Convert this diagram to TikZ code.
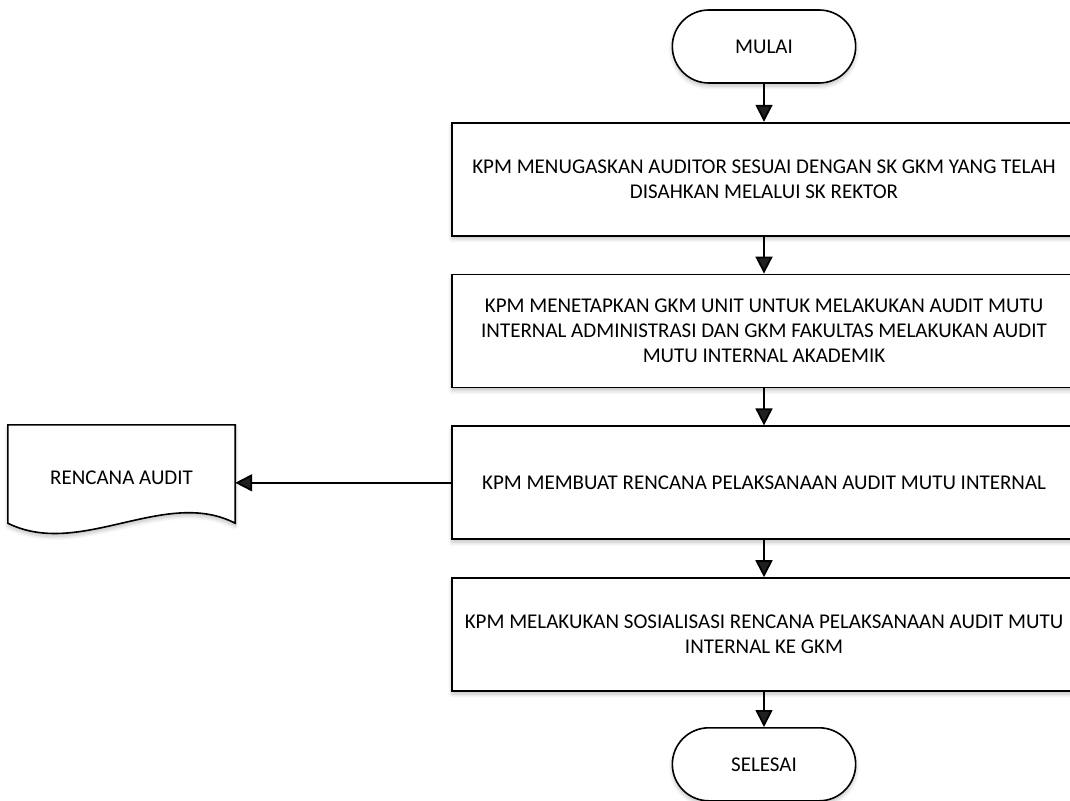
\documentclass[tikz,border=0pt]{standalone}
\usepackage{fontspec}
\setmainfont{Carlito}
\usetikzlibrary{positioning,shapes.misc,arrows.meta,shadows.blur}

\begin{document}
\begin{tikzpicture}[
						x=1pt, y=-1pt,
						node distance=37pt,
						font=\fontsize{21}{25}\selectfont,
						glow/.style={blur shadow={shadow xshift=0pt, shadow yshift=-3pt, shadow blur radius=4pt, shadow opacity=25, shadow blur steps=6}},
						terminal/.style={rounded rectangle, draw=black, line width=1.6pt, fill=white, minimum width=190pt, minimum height=73pt, glow},
						process/.style={rectangle, draw=black, line width=1.8pt, fill=white, minimum width=624pt, minimum height=113pt, align=center, glow},
						doc/.style={rectangle, minimum width=227pt, minimum height=98pt, inner sep=0pt}
					]
					\useasboundingbox (0,0) rectangle (1070,800);
					\node[terminal] (mulai) at (764,46.5) {MULAI};
					\node[process] (tugas) [below=38pt of mulai] {KPM MENUGASKAN AUDITOR SESUAI DENGAN SK GKM YANG TELAH\\DISAHKAN MELALUI SK REKTOR};
					\node[process] (tetap) [below=of tugas] {KPM MENETAPKAN GKM UNIT UNTUK MELAKUKAN AUDIT MUTU\\INTERNAL ADMINISTRASI DAN GKM FAKULTAS MELAKUKAN AUDIT\\MUTU INTERNAL AKADEMIK};
					\node[process] (buat) [below=of tetap] {KPM MEMBUAT RENCANA PELAKSANAAN AUDIT MUTU INTERNAL};
					\node[process] (sosial) [below=of buat] {KPM MELAKUKAN SOSIALISASI RENCANA PELAKSANAAN AUDIT MUTU\\INTERNAL KE GKM};
					\node[terminal] (selesai) [below=35pt of sosial] {SELESAI};
					\node[doc] (rencana) at (121.5,474) {};
					% document outline with wavy bottom
					\draw[line width=1.6pt, fill=white, glow] (rencana.north west) -- (rencana.north east) -- (rencana.south east)
						.. controls (165,487) and (80,559) .. (rencana.south west) -- cycle;
					\node (rencanatext) at (121.5,478) {RENCANA AUDIT};
					\begin{scope}[line width=1.8pt, -{Triangle[length=17pt,width=17pt]}]
					\draw (mulai.south) -- (tugas.north);
					\draw (tugas.south) -- (tetap.north);
					\draw (tetap.south) -- (buat.north);
					\draw (buat.south) -- (sosial.north);
					\draw (sosial.south) -- (selesai.north);
					\draw (buat.west) -- (buat.west -| rencana.east);
					\end{scope}
					\end{tikzpicture}
\end{document}
